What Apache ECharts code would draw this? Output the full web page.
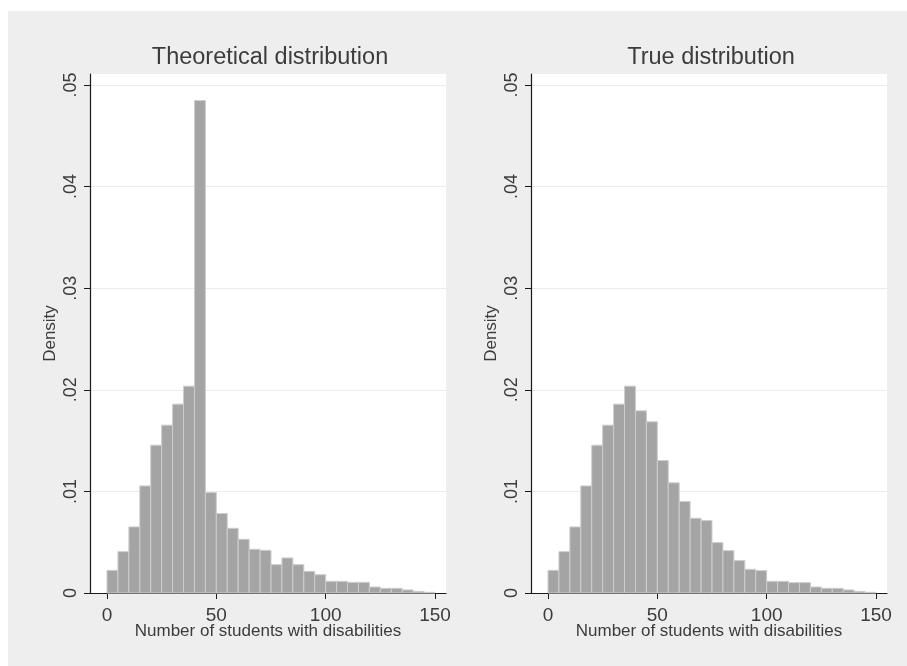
<!DOCTYPE html>
<html>
<head>
<meta charset="utf-8">
<script src="https://cdn.jsdelivr.net/npm/echarts@6/dist/echarts.min.js"></script>
<style>
html,body{margin:0;padding:0;background:#ffffff;}
#panel{position:absolute;left:8px;top:11px;width:899px;height:655px;background:#eeeeee;}
#chart{position:absolute;left:0;top:0;width:907px;height:666px;}
</style>
</head>
<body>
<div id="panel"></div>
<div id="chart"></div>
<script>
// Histogram bin edges (number of students with disabilities)
const binEdges = [0,5,10,15,20,25,30,35,40,45,50,55,60,65,70,75,80,85,90,95,100,105,110,115,120,125,130,135,140,145,150];
// Densities per bin
const theoreticalDensity = [0.00223,0.00407,0.0065,0.01054,0.01455,0.01652,0.01859,0.02036,0.04847,0.00989,
  0.00782,0.00637,0.00529,0.0043,0.0042,0.00279,0.00345,0.00279,0.00213,0.0018,
  0.00115,0.00115,0.00105,0.00105,0.00059,0.00046,0.00046,0.0003,0.00016,0.00007];
const trueDensity = [0.00223,0.00407,0.0065,0.01054,0.01455,0.01652,0.01859,0.02036,0.01793,0.01685,
  0.01304,0.01084,0.009,0.00736,0.00713,0.00496,0.00417,0.00319,0.00233,0.0022,
  0.00115,0.00115,0.00102,0.00102,0.00059,0.00046,0.00046,0.0003,0.00016,0.00007];
const panelTitles = ['Theoretical distribution','True distribution'];
const xTickLabels = ['0','50','100','150'];
const yTickLabels = ['0','.01','.02','.03','.04','.05'];
const xTitle = 'Number of students with disabilities';
const yTitle = 'Density';

const chart = echarts.init(document.getElementById('chart'));
const FONT = 'Liberation Sans, Arial, sans-serif';
const TXT = '#3c3c3c';
const AX = '#1a1a1a';

function toRows(dens){
  return dens.map((d,i)=>[binEdges[i], binEdges[i+1], d]);
}
function renderItem(params, api){
  const p0 = api.coord([api.value(0), api.value(2)]);
  const p1 = api.coord([api.value(1), 0]);
  return {type:'rect', shape:{x:p0[0], y:p0[1], width:p1[0]-p0[0], height:p1[1]-p0[1]},
    style:{fill:'#a4a4a4', stroke:'#cdcdcd', lineWidth:1}};
}

const panels = [
  {bgLeft:90, dataLeft:107, dens:theoreticalDensity},
  {bgLeft:531, dataLeft:548, dens:trueDensity}
];
const grid=[], xAxis=[], yAxis=[], series=[], title=[];
panels.forEach((p,k)=>{
  const base = grid.length;
  // A: white plot region, axis lines, axis titles
  grid.push({left:p.bgLeft, top:74, width:356, height:519, show:true, backgroundColor:'#ffffff', borderWidth:0});
  // C: y scale (ticks, labels, grid lines) over the full plot width
  grid.push({left:p.bgLeft, top:85, width:356, height:508});
  // B: data grid (x scale)
  grid.push({left:p.dataLeft, top:85, width:328, height:508});
  const gA = base, gC = base+1, gB = base+2;

  xAxis.push({type:'value', gridIndex:gA, min:0, max:1, axisLine:{show:true, onZero:false, lineStyle:{color:AX, width:1.2}},
    axisTick:{show:false}, axisLabel:{show:false}, splitLine:{show:false},
    name:xTitle, nameLocation:'middle', nameGap:30, nameTextStyle:{fontSize:17, color:TXT, fontFamily:FONT}});
  yAxis.push({type:'value', gridIndex:gA, min:0, max:1,
    axisLine:{show:true, onZero:false, lineStyle:{color:AX, width:1.2}}, axisTick:{show:false}, axisLabel:{show:false},
    splitLine:{show:false},
    name:yTitle, nameLocation:'middle', nameGap:31, nameTextStyle:{fontSize:17, color:TXT, fontFamily:FONT}});

  xAxis.push({type:'value', gridIndex:gC, min:0, max:1, show:false});
  yAxis.push({type:'value', gridIndex:gC, min:0, max:0.05, interval:0.01,
    axisLine:{show:false}, axisTick:{show:true, length:6, lineStyle:{color:AX}},
    axisLabel:{margin:10, rotate:90, fontSize:18, color:TXT, fontFamily:FONT, formatter:(v)=>yTickLabels[Math.round(v*100)]},
    splitLine:{show:true, lineStyle:{color:'#ebebeb', width:1}}});

  xAxis.push({type:'value', gridIndex:gB, min:0, max:150, interval:50,
    axisLine:{show:false}, axisTick:{show:true, length:6, lineStyle:{color:AX}},
    axisLabel:{margin:13, fontSize:19, color:TXT, fontFamily:FONT, formatter:(v)=>xTickLabels[Math.round(v/50)]},
    splitLine:{show:false}});
  yAxis.push({type:'value', gridIndex:gB, min:0, max:0.05, show:false});

  series.push({type:'custom', xAxisIndex:xAxis.length-1, yAxisIndex:yAxis.length-1, renderItem:renderItem, data:toRows(p.dens), silent:true});
  title.push({text:panelTitles[k], left:p.bgLeft+175, top:41, textAlign:'center',
    textStyle:{fontSize:23.5, fontWeight:'normal', color:TXT, fontFamily:FONT}});
});

chart.setOption({backgroundColor:'transparent', animation:false, title, grid, xAxis, yAxis, series});
</script>
</body>
</html>
